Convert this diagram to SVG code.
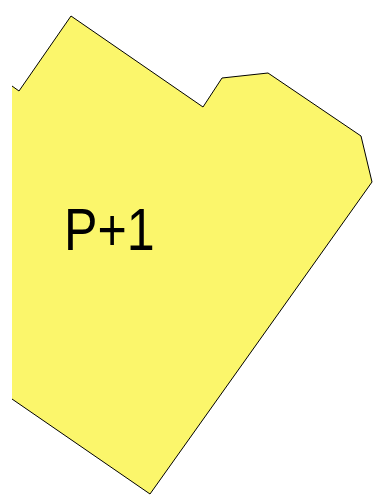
<svg xmlns="http://www.w3.org/2000/svg" width="382" height="495" viewBox="0 0 382 495">
<style>
.area{fill:#FBF66B;stroke:none}
.edge{fill:none;stroke:#000;stroke-width:1}
.lbl{font-family:"Liberation Sans",Arial,sans-serif;font-size:59px;fill:#000}
</style>
<g id="zone-p1">
<polygon class="area" points="12,86 19,91 71,16 203,107 222,78 268,73 361,136 372,182 150,494 12,399"/>
<polyline class="edge" points="12,86 19,91 71,16 203,107 222,78 268,73 361,136 372,182 150,494 12,399"/>
<text class="lbl" transform="translate(64,250) scale(0.85,1)">P+1</text>
</g>
</svg>
